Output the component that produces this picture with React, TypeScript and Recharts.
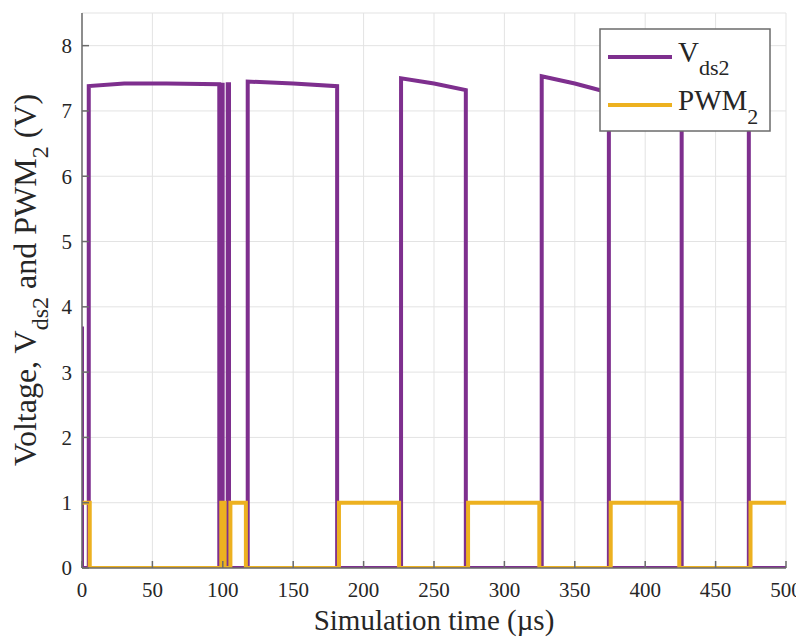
import React from 'react';
import { LineChart, Line, XAxis, YAxis, CartesianGrid, Customized } from 'recharts';

const vdsTime = [0, 0, 4.8, 4.8, 30, 60, 97.5, 97.5, 99.4, 99.4, 99.9, 99.9, 103.5, 103.5, 104.4, 104.4, 117.7, 117.7, 150, 181.2, 181.2, 226.6, 226.6, 250, 272.6, 272.6, 326.5, 326.5, 350, 374.2, 374.2, 425.9, 425.9, 450, 473.6, 473.6, 500];
const vdsValue = [3.7, 0, 0, 7.38, 7.42, 7.42, 7.41, 0, 0, 7.4, 7.4, 0, 0, 7.41, 7.41, 0, 0, 7.45, 7.42, 7.38, 0, 0, 7.5, 7.42, 7.32, 0, 0, 7.53, 7.42, 7.28, 0, 0, 7.5, 7.38, 7.25, 0, 0];

const pwmTime = [0, 5.5, 5.5, 98.9, 98.9, 101.3, 101.3, 105.4, 105.4, 116.4, 116.4, 182.5, 182.5, 225.2, 225.2, 274.2, 274.2, 324.8, 324.8, 375.5, 375.5, 424.2, 424.2, 474.8, 474.8, 500];
const pwmValue = [1, 1, 0, 0, 1, 1, 0, 0, 1, 1, 0, 0, 1, 1, 0, 0, 1, 1, 0, 0, 1, 1, 0, 0, 1, 1];

const xTicks = [0, 50, 100, 150, 200, 250, 300, 350, 400, 450, 500];
const yTicks = [0, 1, 2, 3, 4, 5, 6, 7, 8];

const vdsData = vdsTime.map((t, i) => ({ t, v: vdsValue[i] }));
const pwmData = pwmTime.map((t, i) => ({ t, v: pwmValue[i] }));

const PURPLE = '#7E2F8E';
const ORANGE = '#EDB120';
const AXIS = '#6b6b6b';
const TEXT = '#262626';
const FONT = "'Liberation Serif', 'Times New Roman', serif";

const XTick = (props: any) => (
  <text x={props.x} y={props.y} dy="0.71em" textAnchor="middle" fontSize={21} fill={TEXT} style={{ fontFamily: FONT }}>
    {props.payload.value}
  </text>
);

const YTick = (props: any) => (
  <text x={props.x} y={props.y} dy="0.355em" textAnchor="end" fontSize={21} fill={TEXT} style={{ fontFamily: FONT }}>
    {props.payload.value}
  </text>
);

const Labels = () => (
  <g style={{ fontFamily: FONT }} fill={TEXT}>
    <text x={28} y={272} textAnchor="middle" fontSize={32} style={{ fontFamily: FONT }} transform="rotate(-90 28 272)">
      <tspan>Voltage, V</tspan>
      <tspan fontSize={24} dy={12}>ds2</tspan>
      <tspan dy={-12}> and PWM</tspan>
      <tspan fontSize={24} dy={12}>2</tspan>
      <tspan dy={-12}> (V)</tspan>
    </text>
    <text x={426} y={622} textAnchor="middle" fontSize={29} style={{ fontFamily: FONT }}>Simulation time (µs)</text>
  </g>
);

const LegendOverlay = () => (
  <svg
    width={796}
    height={632}
    style={{ position: 'absolute', left: 0, top: 0, pointerEvents: 'none', fontFamily: FONT }}
  >
    <rect x={592} y={21} width={170} height={102} fill="#ffffff" stroke={AXIS} strokeWidth={1.5} />
    <line x1={600} x2={664} y1={49} y2={49} stroke={PURPLE} strokeWidth={4} />
    <line x1={600} x2={664} y1={97} y2={97} stroke={ORANGE} strokeWidth={4} />
    <text x={670} y={54} fontSize={29} fill={TEXT} style={{ fontFamily: FONT }}>
      <tspan>V</tspan>
      <tspan fontSize={22} dy={13}>ds2</tspan>
    </text>
    <text x={670} y={102} fontSize={29} fill={TEXT} style={{ fontFamily: FONT }}>
      <tspan>PWM</tspan>
      <tspan fontSize={22} dy={14}>2</tspan>
    </text>
  </svg>
);

export default function App() {
  return (
    <div style={{ position: 'relative', width: 796, height: 632, fontFamily: FONT, background: '#ffffff' }}>
      <LineChart
        width={796}
        height={632}
        margin={{ top: 5, right: 18, bottom: 12, left: 30 }}
        style={{ fontFamily: FONT }}
      >
        <CartesianGrid stroke="#e3e3e3" strokeWidth={1} horizontal vertical />
        <XAxis
          dataKey="t"
          type="number"
          domain={[0, 500]}
          ticks={xTicks}
          allowDataOverflow
          height={60}
          tickSize={-7}
          tickMargin={21}
          tick={XTick}
          stroke={AXIS}
          strokeWidth={1.5}
          tickLine={{ stroke: AXIS }}
        />
        <XAxis
          xAxisId="top"
          orientation="top"
          type="number"
          domain={[0, 500]}
          ticks={xTicks}
          allowDataOverflow
          height={0}
          tickSize={-7}
          tick={false}
          stroke={AXIS}
          strokeWidth={1.5}
        />
        <YAxis
          type="number"
          domain={[0, 8.5]}
          ticks={yTicks}
          allowDataOverflow
          width={44}
          tickSize={-7}
          tickMargin={17}
          tick={YTick}
          stroke={AXIS}
          strokeWidth={1.5}
        />
        <YAxis
          yAxisId="right"
          orientation="right"
          type="number"
          domain={[0, 8.5]}
          ticks={yTicks}
          allowDataOverflow
          width={0}
          tickSize={-7}
          tick={false}
          stroke={AXIS}
          strokeWidth={1.5}
        />
        <Line
          data={vdsData}
          dataKey="v"
          type="linear"
          stroke={PURPLE}
          strokeWidth={4}
          dot={false}
          isAnimationActive={false}
        />
        <Line
          data={pwmData}
          dataKey="v"
          type="linear"
          stroke={ORANGE}
          strokeWidth={4}
          dot={false}
          isAnimationActive={false}
        />
        <Customized component={Labels} />
      </LineChart>
      <LegendOverlay />
    </div>
  );
}
